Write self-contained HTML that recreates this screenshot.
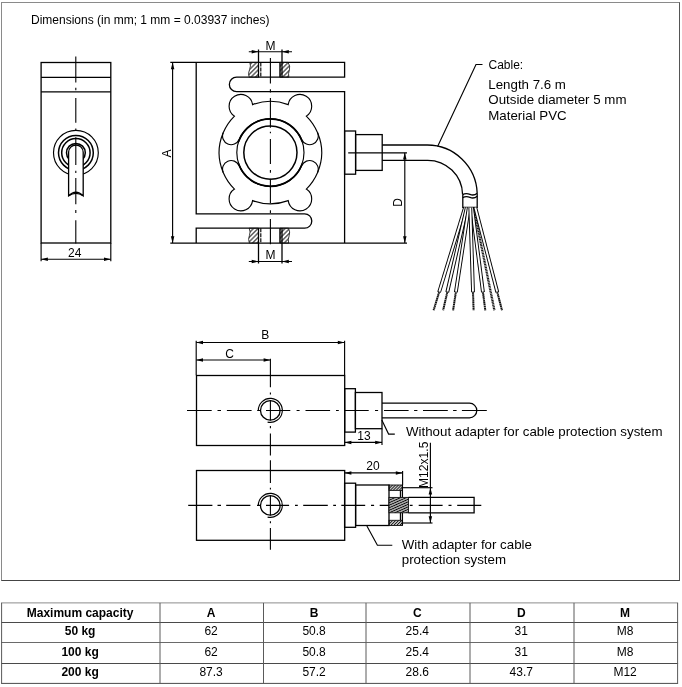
<!DOCTYPE html>
<html>
<head>
<meta charset="utf-8">
<title>Dimensions</title>
<style>
html,body{margin:0;padding:0;background:#fff;}
body{width:682px;height:687px;overflow:hidden;position:relative;font-family:"Liberation Sans",sans-serif;color:#111;}
#frame{position:absolute;left:1px;top:2px;width:677px;height:577px;border:1px solid #777;border-top-color:#8a8a8a;border-left-color:#8a8a8a;border-right-color:#555;border-bottom-color:#444;box-sizing:content-box;}
svg{position:absolute;left:0;top:0;will-change:transform;opacity:0.999;}
svg .l{stroke:#000;stroke-width:1.3;fill:none;}
svg .lw{stroke:#000;stroke-width:1.3;fill:#fff;}
svg .t{stroke:#000;stroke-width:1.15;fill:none;}
svg .k{stroke:#000;stroke-width:1.5;fill:none;}
svg .c{stroke:#111;stroke-width:0.8;fill:none;stroke-dasharray:13 2.2 1.6 2.2;}
svg .cl{stroke:#000;stroke-width:1.1;fill:none;}
svg .ar{fill:#000;stroke:none;}
svg text{font-family:"Liberation Sans",sans-serif;fill:#000;}
svg .d{font-size:12px;text-anchor:middle;}
svg .n{font-size:13.3px;}
table{position:absolute;left:1px;top:603px;border-collapse:collapse;table-layout:fixed;font-size:12px;}
td{border:1px solid #666;height:19.2px;padding:0;text-align:center;vertical-align:middle;line-height:14px;box-sizing:border-box;}
td.b{font-weight:bold;}
</style>
</head>
<body>
<div id="frame"></div>
<svg width="682" height="687" viewBox="0 0 682 687">
<defs>
<pattern id="h1" width="3.2" height="3.2" patternUnits="userSpaceOnUse" patternTransform="rotate(-45)">
<line x1="0" y1="1.6" x2="3.2" y2="1.6" stroke="#111" stroke-width="1"/>
</pattern>
<pattern id="h2" width="2.3" height="2.3" patternUnits="userSpaceOnUse" patternTransform="rotate(-24)">
<line x1="0" y1="1.15" x2="2.3" y2="1.15" stroke="#000" stroke-width="1.3"/>
</pattern>
<pattern id="h3" width="2.1" height="2.1" patternUnits="userSpaceOnUse" patternTransform="rotate(-45)">
<line x1="0" y1="1.05" x2="2.1" y2="1.05" stroke="#000" stroke-width="1.05"/>
</pattern>
</defs>

<text x="31" y="23.5" font-size="12">Dimensions (in mm; 1 mm = 0.03937 inches)</text>

<!-- ================= LEFT SIDE VIEW ================= -->
<g id="sideview">
<rect class="l" x="41.1" y="62.5" width="69.7" height="180.5" stroke-width="1.2"/>
<line class="l" x1="41.1" y1="77.4" x2="110.8" y2="77.4" stroke-width="1.2"/>
<line class="l" x1="41.1" y1="91.9" x2="110.8" y2="91.9" stroke-width="1.2"/>
<circle class="t" cx="75.9" cy="152.8" r="22.4"/>
<circle class="k" cx="75.9" cy="152.8" r="17.4" stroke-width="1.25"/>
<circle class="k" cx="75.9" cy="152.8" r="14.2"/>
<circle class="k" cx="75.9" cy="152.8" r="9.4" stroke-width="1.2"/>
<path class="lw" d="M68.6 195.8 L68.6 152.3 A7.3 7.3 0 0 1 83.2 152.3 L83.2 195.8 Q75.9 188.6 68.6 195.8 Z"/>
<path class="t" d="M68.8 195.8 Q75.9 191 83 195.8"/>
<path class="cl" d="M75.80 56.40 V82.60 M75.80 87.80 V90.20 M75.80 98.00 V122.80 M75.80 128.60 V130.90 M75.80 137.30 V165.00 M75.80 170.80 V173.10 M75.80 178.00 V204.30 M75.80 210.00 V213.00 M75.80 220.30 V243.60"/>
<!-- 24 dimension -->
<line class="t" x1="41.1" y1="243" x2="41.1" y2="261.3"/>
<line class="t" x1="110.8" y1="243" x2="110.8" y2="261.3"/>
<line class="t" x1="41.1" y1="259.2" x2="110.8" y2="259.2"/>
<polygon class="ar" points="41.10,259.20 47.90,257.45 47.90,260.95"/><polygon class="ar" points="110.80,259.20 104.00,257.45 104.00,260.95"/>
<text class="d" x="74.8" y="256.6">24</text>
</g>

<!-- ================= FRONT VIEW (S-beam) ================= -->
<g id="front">
<!-- outline -->
<path class="l" d="M170.3 62.4 L344.6 62.4 L344.6 77.2 L236.6 77.2 A7.25 7.25 0 0 0 236.6 91.7 L344.6 91.7 L344.6 243.1"/>
<path class="l" d="M170.3 243.1 L407 243.1"/>
<path class="l" d="M196.2 62.4 L196.2 213.8 L304.6 213.8 A7.2 7.2 0 0 1 304.6 228.2 L196.2 228.2 L196.2 243.1"/>
<!-- ring -->
<path class="t" d="M239.06 139.42 A8.60 8.60 0 0 1 223.20 132.76 A51.20 51.20 0 0 1 234.49 116.11 A11.80 11.80 0 1 1 252.59 104.60 A51.20 51.20 0 0 1 288.21 104.60 A11.80 11.80 0 1 1 306.31 116.11 A51.20 51.20 0 0 1 317.60 132.76 A8.60 8.60 0 0 1 301.74 139.42 A34.00 34.00 0 0 0 239.06 139.42 Z"/>
<path class="t" d="M239.06 165.78 A8.60 8.60 0 0 0 223.20 172.44 A51.20 51.20 0 0 0 234.49 189.09 A11.80 11.80 0 1 0 252.59 200.60 A51.20 51.20 0 0 0 288.21 200.60 A11.80 11.80 0 1 0 306.31 189.09 A51.20 51.20 0 0 0 317.60 172.44 A8.60 8.60 0 0 0 301.74 165.78 A34.00 34.00 0 0 1 239.06 165.78 Z"/>
<path class="k" stroke-width="1.5" d="M238.59 141.77 A33.6 33.6 0 0 1 302.21 141.77"/><path class="k" stroke-width="1.5" d="M302.21 163.43 A33.6 33.6 0 0 1 238.59 163.43"/><path class="t" d="M223.20 172.44 A51.20 51.20 0 0 1 223.20 132.76"/><path class="t" d="M317.60 132.76 A51.20 51.20 0 0 1 317.60 172.44"/>
<circle class="t" cx="270.4" cy="152.6" r="33.6"/>
<circle class="k" cx="270.4" cy="152.6" r="26.6"/>
<!-- threads top -->
<path d="M258.5 62.4 L249.8 62.4 Q251.2 66 249.6 69.5 Q247.6 73.5 249.2 77.2 L258.5 77.2 Z" fill="url(#h1)" stroke="#111" stroke-width="0.8"/>
<path d="M280 62.4 L288 62.4 Q290.6 66 289.4 69.8 Q288 73.6 288.8 77.2 L280 77.2 Z" fill="url(#h1)" stroke="#111" stroke-width="0.8"/>
<line class="l" x1="258.5" y1="49.5" x2="258.5" y2="77.2"/>
<line class="l" x1="282" y1="49.5" x2="282" y2="77.2"/>
<line class="t" x1="260.8" y1="62.4" x2="260.8" y2="77.2" stroke-dasharray="4 1"/>
<line class="t" x1="280" y1="62.4" x2="280" y2="77.2"/>
<!-- threads bottom -->
<path d="M258.5 228.2 L249.2 228.2 Q250.8 232 249.4 235.6 Q247.8 239.4 249.4 243.1 L258.5 243.1 Z" fill="url(#h1)" stroke="#111" stroke-width="0.8"/>
<path d="M280 228.2 L288.6 228.2 Q290.4 232 289.2 235.6 Q287.8 239.4 288.6 243.1 L280 243.1 Z" fill="url(#h1)" stroke="#111" stroke-width="0.8"/>
<line class="l" x1="258.5" y1="228.2" x2="258.5" y2="263.5"/>
<line class="l" x1="282" y1="228.2" x2="282" y2="263.5"/>
<line class="t" x1="260.8" y1="228.2" x2="260.8" y2="243.1" stroke-dasharray="4 1"/>
<line class="t" x1="280" y1="228.2" x2="280" y2="243.1"/>
<!-- centre line -->
<path class="cl" d="M270.40 58.00 V83.60 M270.40 89.20 V92.40 M270.40 98.00 V127.70 M270.40 131.70 V133.30 M270.40 138.90 V164.00 M270.40 170.10 V172.70 M270.40 178.80 V203.30 M270.40 210.30 V212.90 M270.40 219.00 V244.30"/>
<!-- M dims -->
<line class="t" x1="248.8" y1="51.7" x2="292" y2="51.7"/>
<polygon class="ar" points="258.50,51.70 251.70,49.95 251.70,53.45"/><polygon class="ar" points="282.00,51.70 288.80,49.95 288.80,53.45"/>
<text class="d" x="270.5" y="49.7">M</text>
<line class="t" x1="248.8" y1="261.5" x2="292" y2="261.5"/>
<polygon class="ar" points="258.50,261.50 251.70,259.75 251.70,263.25"/><polygon class="ar" points="282.00,261.50 288.80,259.75 288.80,263.25"/>
<text class="d" x="270.5" y="259">M</text>
<!-- A dim -->
<line class="t" x1="172.6" y1="62.4" x2="172.6" y2="243.1"/>
<polygon class="ar" points="172.60,62.40 170.85,69.20 174.35,69.20"/><polygon class="ar" points="172.60,243.10 170.85,236.30 174.35,236.30"/>
<text class="d" transform="translate(170.8 153.5) rotate(-90)">A</text>
<!-- cable gland -->
<rect class="l" x="344.6" y="131" width="11" height="43.2"/>
<rect class="l" x="355.6" y="134.6" width="26.6" height="35.8"/>
<line class="t" x1="348.2" y1="152.8" x2="407" y2="152.8"/>
<!-- cable -->
<path class="l" d="M382.2 145 L427 145 A50 50 0 0 1 477.2 193.2"/>
<path class="l" d="M382.2 160.3 L427 160.3 A35 35 0 0 1 462.6 194.6"/>
<path class="l" d="M462.6 194.6 Q466 192.8 470 194.4 Q474 196 477.2 193.2"/>
<path class="l" d="M462.8 194.6 L462.8 207.4 L477.2 207.4 L477.2 193.2"/>
<path class="l" d="M462.8 197.6 Q466 195.8 470 197.4 Q474 199 477.2 196.2"/>
<line x1="473.60" y1="207.50" x2="494.40" y2="310.30" stroke="#111" stroke-width="2.3" stroke-dasharray="1.1 0.5"/>
<line x1="439.10" y1="292.30" x2="433.60" y2="310.30" stroke="#111" stroke-width="2" stroke-dasharray="1.6 0.35"/>
<line x1="465.00" y1="207.50" x2="439.10" y2="292.30" stroke="#000" stroke-width="3.8" stroke-linecap="butt"/>
<line x1="465.00" y1="207.50" x2="439.31" y2="291.62" stroke="#fff" stroke-width="1.9"/>
<line x1="447.25" y1="292.30" x2="443.10" y2="310.30" stroke="#111" stroke-width="2" stroke-dasharray="1.6 0.35"/>
<line x1="466.80" y1="207.50" x2="447.25" y2="292.30" stroke="#000" stroke-width="3.8" stroke-linecap="butt"/>
<line x1="466.80" y1="207.50" x2="447.41" y2="291.62" stroke="#fff" stroke-width="1.9"/>
<line x1="455.85" y1="292.30" x2="453.10" y2="310.30" stroke="#111" stroke-width="2" stroke-dasharray="1.6 0.35"/>
<line x1="468.80" y1="207.50" x2="455.85" y2="292.30" stroke="#000" stroke-width="3.8" stroke-linecap="butt"/>
<line x1="468.80" y1="207.50" x2="455.95" y2="291.62" stroke="#fff" stroke-width="1.9"/>
<line x1="497.32" y1="292.30" x2="502.00" y2="310.30" stroke="#111" stroke-width="2" stroke-dasharray="1.6 0.35"/>
<line x1="475.30" y1="207.50" x2="497.32" y2="292.30" stroke="#000" stroke-width="3.8" stroke-linecap="butt"/>
<line x1="475.30" y1="207.50" x2="497.15" y2="291.62" stroke="#fff" stroke-width="1.9"/>
<line x1="482.97" y1="292.30" x2="485.30" y2="310.30" stroke="#111" stroke-width="2" stroke-dasharray="1.6 0.35"/>
<line x1="472.00" y1="207.50" x2="482.97" y2="292.30" stroke="#000" stroke-width="3.8" stroke-linecap="butt"/>
<line x1="472.00" y1="207.50" x2="482.88" y2="291.62" stroke="#fff" stroke-width="1.9"/>
<line x1="473.02" y1="292.30" x2="473.60" y2="310.30" stroke="#111" stroke-width="2" stroke-dasharray="1.6 0.35"/>
<line x1="470.30" y1="207.50" x2="473.02" y2="292.30" stroke="#000" stroke-width="3.8" stroke-linecap="butt"/>
<line x1="470.30" y1="207.50" x2="473.00" y2="291.62" stroke="#fff" stroke-width="1.9"/>
<!-- D dim -->
<line class="t" x1="404.8" y1="152.8" x2="404.8" y2="243.1"/>
<polygon class="ar" points="404.80,152.80 403.05,159.60 406.55,159.60"/><polygon class="ar" points="404.80,243.10 403.05,236.30 406.55,236.30"/>
<text class="d" transform="translate(402.4 202.4) rotate(-90)">D</text>
<!-- Cable leader -->
<path class="t" d="M482.5 64.5 L476 64.5 L437.6 146.6"/>
<text x="488.5" y="68.6" font-size="12">Cable:</text>
<text class="n" x="488.3" y="88.6">Length 7.6 m</text>
<text class="n" x="488.3" y="104.2">Outside diameter 5 mm</text>
<text class="n" x="488.3" y="119.8">Material PVC</text>
</g>

<!-- ================= TOP VIEW 1 ================= -->
<g id="top1">
<rect class="l" x="196.5" y="375.5" width="148.2" height="70"/>
<line class="t" x1="196.2" y1="340.7" x2="196.2" y2="375.3"/>
<line class="t" x1="344.6" y1="340.7" x2="344.6" y2="375.3"/>
<line class="t" x1="196.2" y1="342.5" x2="344.6" y2="342.5"/>
<polygon class="ar" points="196.20,342.50 203.00,340.75 203.00,344.25"/><polygon class="ar" points="344.60,342.50 337.80,340.75 337.80,344.25"/>
<text class="d" x="265.2" y="338.6">B</text>
<line class="t" x1="196.2" y1="360" x2="270.4" y2="360"/>
<polygon class="ar" points="196.20,360.00 203.00,358.25 203.00,361.75"/><polygon class="ar" points="270.40,360.00 263.60,358.25 263.60,361.75"/>
<text class="d" x="229.6" y="357.6">C</text>
<path class="cl" d="M270.40 358.80 V387.20 M270.40 392.40 V394.50 M270.40 400.30 V420.60 M270.40 425.90 V428.30 M270.40 433.40 V455.40 M270.40 460.30 V482.90 M270.40 487.80 V489.40 M270.40 495.40 V515.60 M270.40 521.20 V523.20 M270.40 528.00 V549.70"/>
<path class="cl" d="M187.00 410.50 H211.70 M217.50 410.50 H221.00 M226.90 410.50 H251.60 M257.20 410.50 H260.20 M266.00 410.50 H290.30 M296.60 410.50 H299.60 M305.50 410.50 H330.10 M336.00 410.50 H338.80 M344.70 410.50 H368.70 M375.00 410.50 H378.10 M384.00 410.50 H408.60 M414.10 410.50 H417.40 M423.00 410.50 H447.80 M453.10 410.50 H456.60 M461.90 410.50 H486.80"/>
<circle class="l" cx="270.3" cy="410.4" r="9.8"/>
<path class="t" d="M258.3 410.4 A12 12 0 1 1 267.6 422.1"/>
<rect class="l" x="344.7" y="388.7" width="10.7" height="43.4"/>
<rect class="l" x="355.4" y="392.5" width="26.6" height="36.2"/>
<path class="l" d="M382 403.2 L469.5 403.2 A7.3 7.3 0 0 1 469.5 417.8 L382 417.8"/>
<line class="t" x1="382" y1="428.7" x2="382" y2="445"/>
<line class="t" x1="344.6" y1="442.4" x2="382" y2="442.4"/>
<polygon class="ar" points="344.60,442.40 351.40,440.65 351.40,444.15"/><polygon class="ar" points="382.00,442.40 375.20,440.65 375.20,444.15"/>
<text class="d" x="364" y="440.2">13</text>
<path class="t" d="M381.8 419.9 L388.6 434.1 L394.8 434.1"/>
<text class="n" x="406" y="435.6">Without adapter for cable protection system</text>
</g>

<!-- ================= TOP VIEW 2 ================= -->
<g id="top2">
<rect class="l" x="196.5" y="470.5" width="148.2" height="69.8"/>
<path class="cl" d="M188.20 505.40 H212.40 M217.50 505.40 H221.00 M226.20 505.40 H250.40 M257.00 505.40 H260.00 M266.00 505.40 H289.10 M295.00 505.40 H297.80 M303.20 505.40 H327.80 M333.20 505.40 H336.00 M341.30 505.40 H365.20 M371.00 505.40 H374.10 M379.70 505.40 H403.90 M409.80 505.40 H412.60 M418.70 505.40 H442.60 M448.50 505.40 H451.50 M457.20 505.40 H481.30"/>
<circle class="l" cx="270.3" cy="505.4" r="9.8"/>
<path class="t" d="M258.3 505.4 A12 12 0 1 1 267.6 517.1"/>
<rect class="l" x="344.6" y="483.2" width="11" height="44.1"/>
<rect class="l" x="355.6" y="485" width="33.4" height="40.5"/>
<!-- adapter -->
<rect x="389" y="485" width="13.4" height="5.4" fill="url(#h3)" stroke="#111" stroke-width="0.9"/>
<rect x="389" y="520.3" width="13.4" height="5.2" fill="url(#h3)" stroke="#111" stroke-width="0.9"/>
<line class="l" x1="402.4" y1="485" x2="402.4" y2="525.5"/>
<line class="t" x1="400.4" y1="490.4" x2="400.4" y2="520.3"/>
<rect x="389" y="497.4" width="19.5" height="15.4" fill="#fff"/>
<rect x="389" y="497.4" width="19.5" height="15.4" fill="url(#h2)" stroke="#111" stroke-width="0.9"/>
<path class="l" d="M408.5 497.4 L474.1 497.4 L474.1 512.8 L408.5 512.8"/>
<line class="t" x1="402.4" y1="487.7" x2="432.5" y2="487.7"/>
<line class="t" x1="402.4" y1="523" x2="432.5" y2="523"/>
<line class="t" x1="430.4" y1="442.8" x2="430.4" y2="523"/>
<polygon class="ar" points="430.40,487.70 428.65,494.50 432.15,494.50"/><polygon class="ar" points="430.40,523.00 428.65,516.20 432.15,516.20"/>
<text transform="translate(428 488) rotate(-90)" font-size="12.1">M12x1.5</text>
<!-- 20 dim -->
<line class="t" x1="402.6" y1="471" x2="402.6" y2="485"/>
<line class="t" x1="344.6" y1="472.9" x2="402.6" y2="472.9"/>
<polygon class="ar" points="344.60,472.90 351.40,471.15 351.40,474.65"/><polygon class="ar" points="402.60,472.90 395.80,471.15 395.80,474.65"/>
<text class="d" x="372.9" y="469.6">20</text>
<path class="t" d="M366.9 526 L377.4 545.2 L392.3 545.2"/>
<text class="n" x="401.8" y="548.8">With adapter for cable</text>
<text class="n" x="401.8" y="564">protection system</text>
</g>
<g id="tbl">
<line x1="1.1" y1="602.9" x2="678.1" y2="602.9" stroke="#8c8c8c" stroke-width="1"/>
<line x1="1.1" y1="622.5" x2="678.1" y2="622.5" stroke="#4a4a4a" stroke-width="1"/>
<line x1="1.1" y1="642.5" x2="678.1" y2="642.5" stroke="#6a6a6a" stroke-width="1"/>
<line x1="1.1" y1="663.5" x2="678.1" y2="663.5" stroke="#4a4a4a" stroke-width="1"/>
<line x1="1.1" y1="683.4" x2="678.1" y2="683.4" stroke="#4a4a4a" stroke-width="1"/>
<line x1="1.6" y1="602.9" x2="1.6" y2="683.4" stroke="#5a5a5a" stroke-width="1"/>
<line x1="160.0" y1="602.9" x2="160.0" y2="683.4" stroke="#5a5a5a" stroke-width="1"/>
<line x1="263.5" y1="602.9" x2="263.5" y2="683.4" stroke="#5a5a5a" stroke-width="1"/>
<line x1="366.0" y1="602.9" x2="366.0" y2="683.4" stroke="#5a5a5a" stroke-width="1"/>
<line x1="470.0" y1="602.9" x2="470.0" y2="683.4" stroke="#5a5a5a" stroke-width="1"/>
<line x1="574.0" y1="602.9" x2="574.0" y2="683.4" stroke="#5a5a5a" stroke-width="1"/>
<line x1="677.6" y1="602.9" x2="677.6" y2="683.4" stroke="#5a5a5a" stroke-width="1"/>
<text x="80.1" y="617.0" font-size="12" text-anchor="middle" font-weight="bold">Maximum capacity</text>
<text x="211.1" y="617.0" font-size="12" text-anchor="middle" font-weight="bold">A</text>
<text x="314.1" y="617.0" font-size="12" text-anchor="middle" font-weight="bold">B</text>
<text x="417.3" y="617.0" font-size="12" text-anchor="middle" font-weight="bold">C</text>
<text x="521.3" y="617.0" font-size="12" text-anchor="middle" font-weight="bold">D</text>
<text x="625.1" y="617.0" font-size="12" text-anchor="middle" font-weight="bold">M</text>
<text x="80.1" y="635.3" font-size="12" text-anchor="middle" font-weight="bold">50 kg</text>
<text x="211.1" y="635.3" font-size="12" text-anchor="middle">62</text>
<text x="314.1" y="635.3" font-size="12" text-anchor="middle">50.8</text>
<text x="417.3" y="635.3" font-size="12" text-anchor="middle">25.4</text>
<text x="521.3" y="635.3" font-size="12" text-anchor="middle">31</text>
<text x="625.1" y="635.3" font-size="12" text-anchor="middle">M8</text>
<text x="80.1" y="655.8" font-size="12" text-anchor="middle" font-weight="bold">100 kg</text>
<text x="211.1" y="655.8" font-size="12" text-anchor="middle">62</text>
<text x="314.1" y="655.8" font-size="12" text-anchor="middle">50.8</text>
<text x="417.3" y="655.8" font-size="12" text-anchor="middle">25.4</text>
<text x="521.3" y="655.8" font-size="12" text-anchor="middle">31</text>
<text x="625.1" y="655.8" font-size="12" text-anchor="middle">M8</text>
<text x="80.1" y="676.3" font-size="12" text-anchor="middle" font-weight="bold">200 kg</text>
<text x="211.1" y="676.3" font-size="12" text-anchor="middle">87.3</text>
<text x="314.1" y="676.3" font-size="12" text-anchor="middle">57.2</text>
<text x="417.3" y="676.3" font-size="12" text-anchor="middle">28.6</text>
<text x="521.3" y="676.3" font-size="12" text-anchor="middle">43.7</text>
<text x="625.1" y="676.3" font-size="12" text-anchor="middle">M12</text>
</g>
</svg>


</body>
</html>
